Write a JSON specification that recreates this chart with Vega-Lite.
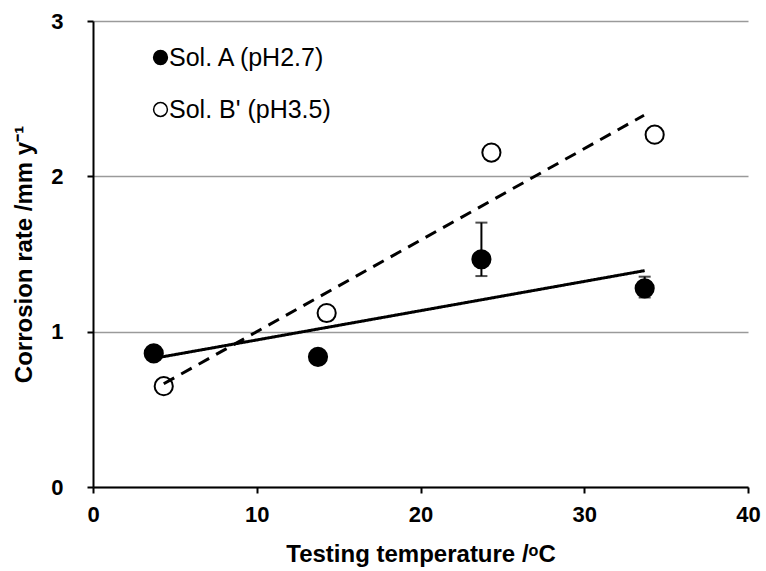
{
  "$schema": "https://vega.github.io/schema/vega-lite/v6.json",
  "width": 655,
  "height": 466,
  "autosize": {"type": "none"},
  "padding": {"left": 93, "top": 21, "right": 18, "bottom": 84},
  "background": "white",
  "config": {
    "view": {"stroke": null},
    "font": "Liberation Sans",
    "axis": {
      "domainColor": "black",
      "domainWidth": 2,
      "tickColor": "black",
      "tickWidth": 2,
      "tickSize": 6,
      "labelFont": "Liberation Sans",
      "labelFontWeight": "bold",
      "labelFontSize": 22,
      "labelColor": "black",
      "titleFont": "Liberation Sans",
      "titleFontWeight": "bold",
      "titleFontSize": 24,
      "titleColor": "black"
    }
  },
  "datasets": {
    "pts": [
      {"series": "Sol. A (pH2.7)", "t": 3.71, "r": 0.86},
      {"series": "Sol. A (pH2.7)", "t": 13.74, "r": 0.838},
      {"series": "Sol. A (pH2.7)", "t": 23.72, "r": 1.466},
      {"series": "Sol. A (pH2.7)", "t": 33.69, "r": 1.279},
      {"series": "Sol. B' (pH3.5)", "t": 4.32, "r": 0.649},
      {"series": "Sol. B' (pH3.5)", "t": 14.27, "r": 1.12},
      {"series": "Sol. B' (pH3.5)", "t": 24.33, "r": 2.153},
      {"series": "Sol. B' (pH3.5)", "t": 34.3, "r": 2.268}
    ],
    "errs": [
      {"t": 23.72, "lo": 1.358, "hi": 1.702},
      {"t": 33.69, "lo": 1.22, "hi": 1.354}
    ],
    "trend": [
      {"fit": "A", "t": 3.71, "r": 0.828},
      {"fit": "A", "t": 33.69, "r": 1.393},
      {"fit": "B", "t": 4.32, "r": 0.665},
      {"fit": "B", "t": 33.65, "r": 2.393}
    ]
  },
  "encoding": {
    "x": {
      "field": "t",
      "type": "quantitative",
      "scale": {"domain": [0, 40], "nice": false},
      "axis": {
        "values": [0, 10, 20, 30, 40],
        "grid": false,
        "title": "Testing temperature /ᵒC",
        "labelFontSize": 22,
        "labelFontWeight": "bold",
        "labelFlush": false,
        "labelPadding": 11,
        "titlePadding": 17
      }
    },
    "y": {
      "field": "r",
      "type": "quantitative",
      "scale": {"domain": [0, 3], "nice": false},
      "axis": {
        "values": [0, 1, 2, 3],
        "grid": true,
        "gridColor": "#9a9a9a",
        "gridWidth": 1.5,
        "title": "Corrosion rate /mm y⁻¹",
        "labelFontSize": 22,
        "labelFontWeight": "bold",
        "labelFlush": false,
        "labelPadding": 24,
        "titlePadding": 14
      }
    }
  },
  "layer": [
    {
      "data": {"name": "errs"},
      "mark": {"type": "rule", "color": "black", "strokeWidth": 2},
      "encoding": {
        "y": {"field": "lo", "type": "quantitative"},
        "y2": {"field": "hi"}
      }
    },
    {
      "data": {"name": "errs"},
      "mark": {"type": "tick", "orient": "horizontal", "color": "black", "size": 12, "thickness": 2},
      "encoding": {"y": {"field": "hi", "type": "quantitative"}}
    },
    {
      "data": {"name": "errs"},
      "mark": {"type": "tick", "orient": "horizontal", "color": "black", "size": 12, "thickness": 2},
      "encoding": {"y": {"field": "lo", "type": "quantitative"}}
    },
    {
      "data": {"name": "pts"},
      "mark": {"type": "point", "shape": "circle", "size": 330, "stroke": "black", "strokeWidth": 2, "filled": false, "opacity": 1},
      "encoding": {
        "fill": {
          "field": "series",
          "type": "nominal",
          "scale": {"domain": ["Sol. A (pH2.7)", "Sol. B' (pH3.5)"], "range": ["black", "white"]},
          "legend": {
            "title": null,
            "orient": "none",
            "legendX": 55,
            "legendY": 24,
            "padding": 0,
            "symbolType": "circle",
            "symbolSize": 190,
            "symbolStrokeColor": "black",
            "symbolStrokeWidth": 1.5,
            "symbolOpacity": 1,
            "labelFont": "Liberation Sans",
            "labelFontSize": 25,
            "labelColor": "black",
            "labelLimit": 400,
            "labelOffset": -4,
            "rowPadding": 26
          }
        }
      }
    },
    {
      "data": {"name": "trend"},
      "mark": {"type": "line", "color": "black", "strokeWidth": 3},
      "encoding": {
        "detail": {"field": "fit", "type": "nominal"},
        "strokeDash": {
          "field": "fit",
          "type": "nominal",
          "scale": {"domain": ["A", "B"], "range": [[1, 0], [12, 8]]},
          "legend": null
        }
      }
    }
  ]
}
